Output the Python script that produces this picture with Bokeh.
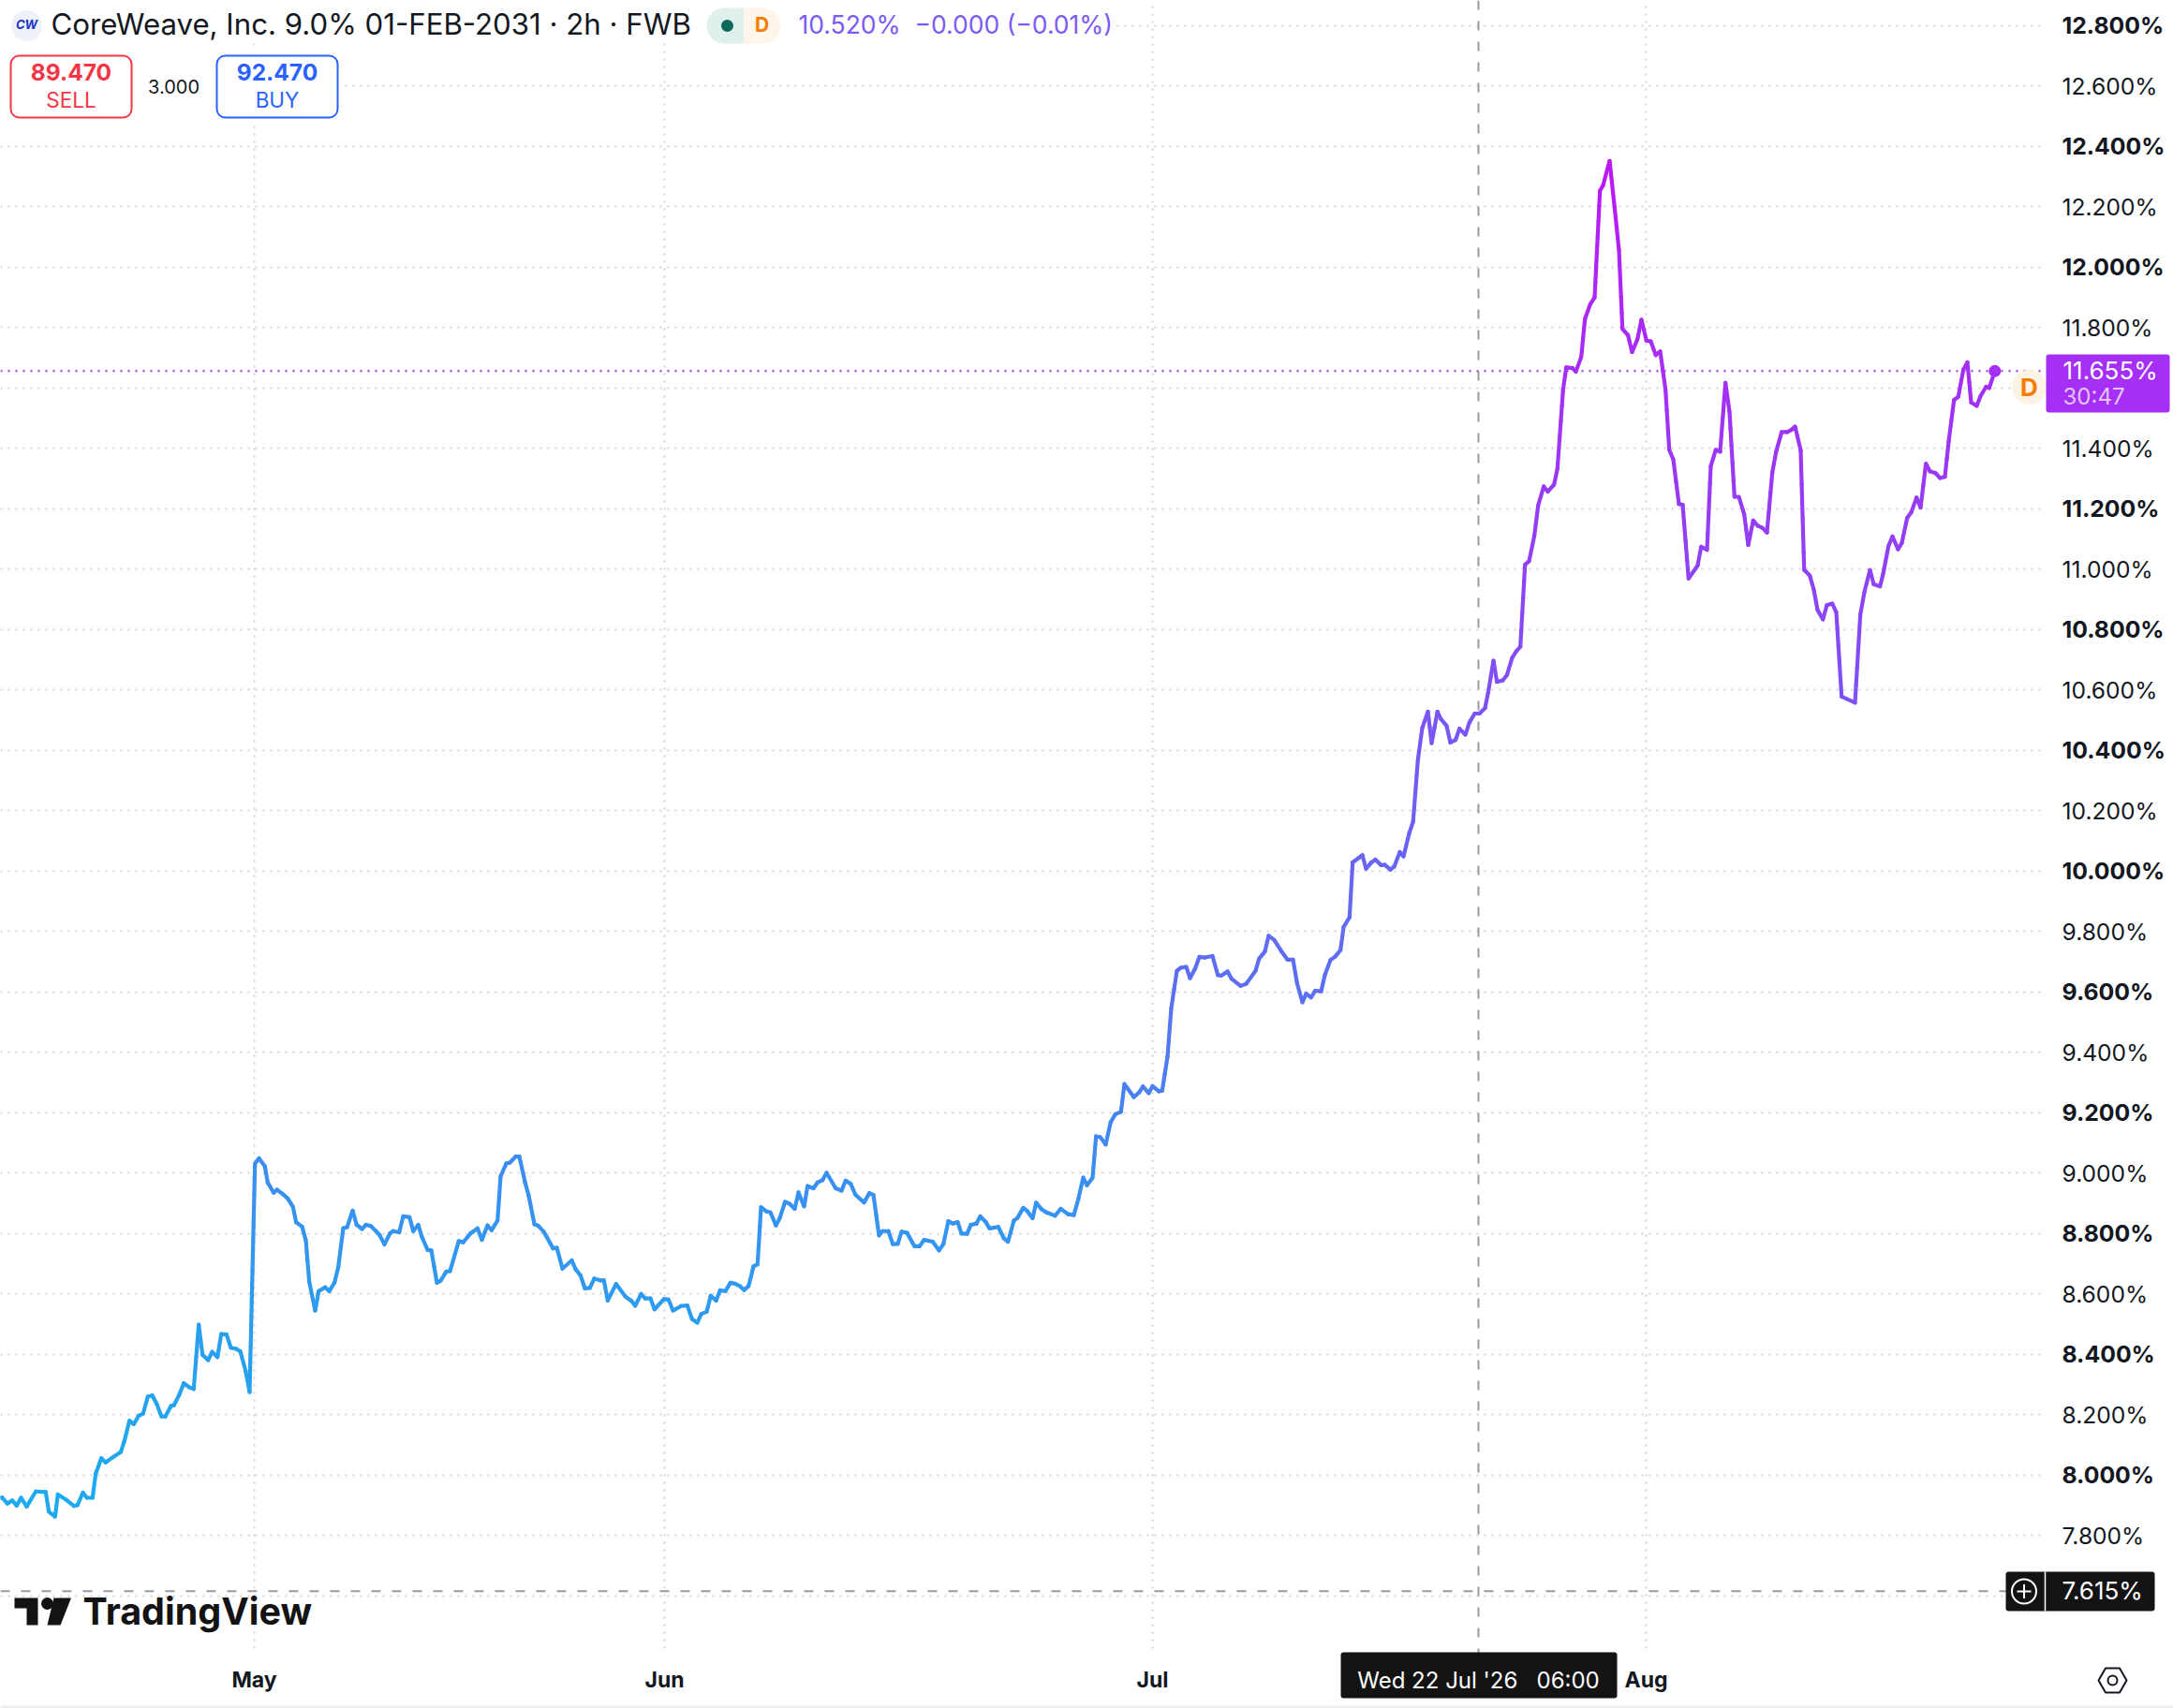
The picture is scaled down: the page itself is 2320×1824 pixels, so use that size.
from bokeh.core.properties import value
from bokeh.embed import file_html
from bokeh.models import BoxAnnotation, FixedTicker, Grid, LinearAxis, PrintfTickFormatter, Range1d
from bokeh.plotting import figure
from bokeh.resources import INLINE
import numpy as np

# ---- data -----------------------------------------------------------------
bar_position = [
    0,1.7,7.3,12.7,17.3,22,28,37.7,48.3,51.7,58.3,61.3,70.7,78.3,82.3,88,92.3,98.3,101.7,107.7,
    112.3,120.7,128.3,132.3,137.7,142.3,147.7,152.3,157.3,162,166.7,172,176,182,185.3,190.7,195.7,201.7,206.3,211.7,
    215.7,221.7,226,231.7,235.7,241.3,246,251.7,256,261.7,266,271.7,276,282.3,285.3,291.7,295.3,301.7,306.7,312.3,
    315.7,322,326,329.7,336,339.7,346.7,351,356.7,360.7,366,370,376,380.3,386,390.3,395.3,
    400.7,405,410,415.7,419.3,425.7,430,436.7,440.7,446,450,456,460,466,470,476,480,489.3,494,501.7,509.3,514,520,
    524.3,530.7,534,540,544,550,554,560,564,570,574,580,590,594,600,610,614,619.3,624,629.3,634,640,644.3,648.3,
    657.3,667.3,673.3,677.7,684,688.3,694,698.3,708.3,713.3,718,726.7,733.3,738.3,744,748.3,754,758.3,764,768.3,774,779.3,
    784,789.3,794,798.7,804,808.3,812,817.3,822,828,832,837.7,842.3,848,852,858,861.7,868,872.3,877.7,882,891.7,898,
    902.3,907.7,912.7,922,927.7,932,938,941.7,948,952.7,958,962,968,975.7,981.3,986,995.3,1002,1006.7,1012,1016.7,
    1022,1026,1032,1036,1042,1046,1052,1056,1065.3,1071.3,1075.7,1082,1085.7,1092,1096,1102,1105.7,1111.3,1116.7,
    1126,1132,1140,1146,1150.7,1156,1160,1166,1169.7,1174.3,1180,1185.3,1190.3,1196.3,1200,1210,1215.7,1219.7,1226,1230,
    1236.7,1240.3,1246,1250,1256,1260,1266,1270,1275.3,1280,1286,1294,1299.7,1303.3,1310,1314.3,1324,1330,1340,1343.7,
    1350,1354,1360,1367.3,1374,1380,1384.3,1390,1394,1399.3,1403.7,1410,1414,1420,1425,1430.7,1434,1440.3,1443.7,
    1454,1458,1463.3,1468,1474,1478,1484,1488,1494,1498,1504,1508.2,1513.3,1517.9,1524,1528,1534.2,1537.8,1543.9,
    1548,1553.6,1557.7,1564,1568.3,1574,1579,1585,1588.3,1594,1597.7,1604,1608.3,1614,1618.3,1622.7,1627.7,1632,
    1637.7,1641.7,1647.7,1652,1658.7,1662.3,1668.3,1671.7,1678.3,1682,1687.7,1691.7,1697.3,1702,1707.7,1711,1718,
    1723.3,1728,1731.7,1737.7,1742,1747.7,1752,1757.3,1762,1767.3,1772,1777.7,1781.7,1786,1792,1796,1802.3,1812,
    1815.7,1822,1826,1831.3,1836,1841.7,1846,1851.3,1856,1861.7,1866,1871.3,1876,1881,1886,1891.7,1895.7,1901.7,
    1907.7,1912.3,1916,1922,1925.7,1931.7,1936,1940,1945.7,1950,1955.7,1960,1965.7,1980,1985.7,1990,1996,2000,2006.7,
    2010,2015.7,2020,2026,2030,2035.7,2040,2045.7,2050,2055.7,2060,2066,2070.7,2076,2080,2085.7,2090.3,2095.7,2100,
    2104,2110,2114,2120,2123.3,2129.3,
]
yield_pct = [
    7.923,7.925,7.905,7.915,7.898,7.924,7.895,7.945,7.943,7.878,7.862,7.935,7.916,7.897,7.900,7.941,7.924,7.924,8.004,8.055,
    8.041,8.060,8.075,8.112,8.179,8.168,8.196,8.203,8.259,8.263,8.236,8.193,8.193,8.228,8.231,8.264,8.303,8.290,8.284,8.497,
    8.398,8.380,8.407,8.390,8.466,8.465,8.421,8.417,8.409,8.345,8.274,9.030,9.048,9.022,8.968,8.934,8.944,8.929,8.915,8.887,
    8.836,8.822,8.777,8.639,8.544,8.608,8.621,8.608,8.637,8.688,8.817,8.820,8.875,8.828,8.814,8.828,8.824,
    8.808,8.793,8.763,8.799,8.807,8.803,8.856,8.853,8.807,8.828,8.787,8.745,8.743,8.636,8.643,8.673,8.675,8.774,8.770,8.799,8.816,8.778,8.826,
    8.810,8.842,8.989,9.031,9.034,9.054,9.054,8.970,8.924,8.830,8.825,8.805,8.750,8.752,8.683,8.710,8.681,8.660,8.617,8.619,8.650,8.644,8.644,8.577,
    8.632,8.590,8.577,8.560,8.599,8.584,8.584,8.548,8.582,8.580,8.544,8.559,8.561,8.516,8.504,8.533,8.540,8.593,8.577,8.611,8.608,8.636,
    8.633,8.625,8.612,8.625,8.690,8.697,8.886,8.873,8.869,8.826,8.850,8.904,8.898,8.881,8.935,8.889,8.956,8.949,8.968,8.976,9.000,8.949,8.941,
    8.974,8.964,8.928,8.902,8.933,8.927,8.793,8.807,8.807,8.764,8.765,8.805,8.801,8.757,8.757,8.778,8.772,8.743,8.764,8.840,8.832,
    8.837,8.799,8.798,8.828,8.832,8.856,8.837,8.816,8.821,8.783,8.772,8.842,8.850,8.884,8.874,8.850,8.901,8.880,8.869,
    8.858,8.881,8.863,8.860,8.912,8.984,8.959,8.984,9.121,9.118,9.094,9.168,9.194,9.202,9.294,9.251,9.266,9.286,9.264,9.287,
    9.270,9.272,9.385,9.545,9.669,9.679,9.682,9.645,9.675,9.715,9.713,9.718,9.655,9.653,9.667,9.643,9.619,9.626,9.669,9.709,
    9.733,9.785,9.771,9.735,9.706,9.706,9.628,9.565,9.593,9.581,9.603,9.601,9.655,9.705,9.716,9.738,9.814,9.846,10.028,
    10.052,10.007,10.027,10.037,10.019,10.020,10.004,10.014,10.062,10.048,10.124,10.163,10.367,10.472,10.527,10.423,10.527,10.503,10.481,
    10.425,10.434,10.471,10.451,10.491,10.521,10.521,10.539,10.590,10.696,10.626,10.631,10.648,10.706,10.727,10.742,11.014,11.025,
    11.111,11.210,11.273,11.256,11.279,11.332,11.593,11.667,11.665,11.653,11.702,11.828,11.876,11.899,12.252,12.270,12.351,
    12.197,12.056,11.795,11.773,11.718,11.760,11.825,11.756,11.753,11.708,11.720,11.593,11.394,11.362,11.215,11.212,10.968,11.011,
    11.073,11.063,11.340,11.394,11.388,11.616,11.520,11.239,11.238,11.181,11.079,11.160,11.143,11.136,11.120,11.319,11.387,11.453,
    11.453,11.461,11.471,11.393,10.997,10.978,10.931,10.864,10.833,10.880,10.885,10.856,10.577,10.557,10.849,10.923,10.996,10.949,10.942,
    10.983,11.075,11.107,11.065,11.086,11.169,11.187,11.236,11.203,11.348,11.323,11.317,11.301,11.305,11.422,11.559,11.570,11.660,11.684,
    11.551,11.540,11.572,11.603,11.599,11.655,
]
regular_ticks = [7.8, 8.2, 8.6, 9.0, 9.4, 9.8, 10.2, 10.6, 11.0, 11.4, 11.8, 12.2, 12.6]
bold_ticks = [8.0, 8.4, 8.8, 9.2, 9.6, 10.0, 10.4, 10.8, 11.2, 12.0, 12.4, 12.8]
grid_ticks = [7.6, 7.8, 8.0, 8.2, 8.4, 8.6, 8.8, 9.0, 9.2, 9.4, 9.6, 9.8, 10.0, 10.2, 10.4, 10.6, 10.8,
              11.0, 11.2, 11.4, 11.6, 11.8, 12.0, 12.2, 12.4, 12.6, 12.8]
month_names = ["May", "Jun", "Jul", "Aug"]
month_bars = [271, 709, 1230, 1757]
last_price = 11.655
low_price = 7.615
crosshair_bar = 1578

# ---- scale: 322.5 px per 1 % with 7.8 % at 1639 px of the 2320x1824 shot ---
def yield_at(py):
    return 7.8 + (1639.0 - py) / 322.5

FONT = value("Inter")
W, H = 2320, 1824
p = figure(width=W, height=H, output_backend="svg", toolbar_location=None,
           x_range=Range1d(0, W), y_range=Range1d(yield_at(H), yield_at(0)),
           x_axis_type=None, y_axis_type=None, min_border=0, outline_line_color=None,
           background_fill_color="white", border_fill_color="white")
p.extra_x_ranges = {"px": Range1d(0, W)}
p.extra_y_ranges = {"px": Range1d(H, 0)}
px = dict(x_range_name="px", y_range_name="px")

GRID = dict(grid_line_color="#d4d4d4", grid_line_width=2, grid_line_dash="2 6")
p.add_layout(Grid(dimension=1, ticker=FixedTicker(ticks=grid_ticks), **GRID))
p.add_layout(Grid(dimension=0, ticker=FixedTicker(ticks=month_bars), **GRID))

# masks: the panels and the header sit on white, over the grid
p.quad(left=[2180, 0, 0, 0], right=[W, W, 1190, 365], top=[0, 1765, 0, 52], bottom=[H, H, 46, 130],
       fill_color="white", line_color=None, **px)
p.quad(left=[0], right=[W], top=[1821], bottom=[H], fill_color="#eeeeee", line_color=None, **px)

# crosshair and low line
LINE = "#9a9a9a"
p.segment(x0=[crosshair_bar], x1=[crosshair_bar], y0=[yield_at(0)], y1=[yield_at(1766)],
          line_color=LINE, line_width=2, line_dash="10 12")
p.segment(x0=[0], x1=[2142], y0=[low_price], y1=[low_price], line_color=LINE, line_width=2, line_dash="10 12")
p.segment(x0=[0], x1=[2184], y0=[last_price], y1=[last_price], line_color="#a02ff5", line_width=2, line_dash="2 6")

# the series, coloured by its level
stops_v = [8.0, 8.5, 9.0, 9.6, 10.0, 10.5, 11.0, 11.6, 12.35]
stops_rgb = np.array([[0x1f,0xa9,0xee],[0x2b,0x9d,0xef],[0x3a,0x8f,0xf0],[0x5b,0x70,0xf2],[0x68,0x66,0xf3],
                      [0x7a,0x55,0xf5],[0x8f,0x42,0xf5],[0xa3,0x30,0xf5],[0xbc,0x18,0xf6]], dtype=float)
def color_of(v):
    return "#%02x%02x%02x" % tuple(int(round(np.interp(v, stops_v, stops_rgb[:, i]))) for i in range(3))

x0s, y0s, x1s, y1s, cols = [], [], [], [], []
for i in range(len(bar_position) - 1):
    xa, xb, ya, yb = bar_position[i], bar_position[i + 1], yield_pct[i], yield_pct[i + 1]
    n = max(1, int(abs(yb - ya) / 0.05))
    for k in range(n):
        t0, t1 = k / n, (k + 1) / n
        x0s.append(xa + (xb - xa) * t0); x1s.append(xa + (xb - xa) * t1)
        y0s.append(ya + (yb - ya) * t0); y1s.append(ya + (yb - ya) * t1)
        cols.append(color_of(ya + (yb - ya) * (t0 + t1) / 2))
p.segment(x0=x0s, y0=y0s, x1=x1s, y1=y1s, line_color=cols, line_width=4.2, line_cap="round")
p.scatter(x=[bar_position[-1]], y=[yield_pct[-1]], size=13, marker="circle", fill_color="#a52ff5", line_color=None)

# axes
def y_axis(ticks, style, size):
    ax = LinearAxis(fixed_location=2184, ticker=FixedTicker(ticks=ticks),
                    formatter=PrintfTickFormatter(format="%.3f%%"), axis_line_color=None,
                    major_tick_line_color=None, minor_tick_line_color=None, major_label_standoff=11,
                    major_label_text_font="Inter", major_label_text_font_size=size,
                    major_label_text_font_style=style, major_label_text_color="#131722")
    p.add_layout(ax, "right")
y_axis(regular_ticks, "normal", "24.6px")
y_axis(bold_ticks, "bold", "24.8px")
xax = LinearAxis(fixed_location=yield_at(1765), ticker=FixedTicker(ticks=month_bars),
                 major_label_overrides={b: n for b, n in zip(month_bars, month_names)},
                 axis_line_color=None, major_tick_line_color=None, minor_tick_line_color=None,
                 major_label_standoff=8, major_label_text_font="Inter", major_label_text_font_size="23px",
                 major_label_text_font_style="bold", major_label_text_color="#131722")
p.add_layout(xax, "below")

# chrome
def box(l, r, t, b, fill, line=None, radius=3):
    p.add_layout(BoxAnnotation(left=l, right=r, top=t, bottom=b, fill_color=fill, fill_alpha=1,
                               line_color=line, line_alpha=1 if line else 0, line_width=2,
                               border_radius=radius, **px))

def txt(x, y, s, size, color, style="normal", align="left", level="overlay"):
    p.text(x=[x], y=[y - 1.2], text=[s], text_font=FONT, text_font_size=f"{size}px", text_color=color,
           text_font_style=style, text_align=align, text_baseline="middle", level=level, **px)

# header
p.scatter(x=[28], y=[27], size=33, marker="circle", fill_color="#eef1f9", line_color=None, **px)
txt(28, 27, "CW", 13, "#1a33c8", "bold italic", "center")
txt(54, 27, "CoreWeave, Inc. 9.0% 01-FEB-2031 · 2h · FWB", 31.2, "#131722")
p.scatter(x=[773], y=[27], size=38, marker="circle", fill_color="#e0f0ec", line_color=None, **px)
p.scatter(x=[814], y=[27], size=38, marker="circle", fill_color="#fff5ea", line_color=None, **px)
p.quad(left=[773, 794], right=[794, 814], top=[8, 8], bottom=[46, 46], fill_color=["#e0f0ec", "#fff5ea"], line_color=None, **px)
p.scatter(x=[776], y=[27], size=13, marker="circle", fill_color="#0b6b5a", line_color=None, **px)
txt(813, 27, "D", 21, "#f57c00", "bold", "center")
txt(852, 27, "10.520%\u00a0\u00a0−0.000 (−0.01%)", 26.5, "#7b5af5")
box(11, 140, 59, 125, "white", "#f23645", 9)
box(231, 360, 59, 125, "white", "#2962ff", 9)
txt(75.5, 78, "89.470", 24.5, "#f23645", "bold", "center")
txt(75.5, 107, "SELL", 22.5, "#f23645", "normal", "center")
txt(185, 93, "3.000", 20, "#131722", "normal", "center")
txt(295.5, 78, "92.470", 24.5, "#2962ff", "bold", "center")
txt(295.5, 107, "BUY", 22.5, "#2962ff", "normal", "center")

# last-price tag
box(2184, 2316, 378, 440, "#a52ff5")
txt(2202, 396, f"{last_price:.3f}%", 26, "white")
txt(2202, 424, "30:47", 24, "#e2c6fc")
p.scatter(x=[2166], y=[413], size=37, marker="circle", fill_color="#fdf3e4", line_color=None, **px)
txt(2166, 414, "D", 26, "#f57c00", "bold", "center")

# low tag
box(2141, 2300, 1678, 1720, "#131313")
p.segment(x0=[2183], x1=[2183], y0=[1678], y1=[1720], line_color="white", line_width=1.5, level="overlay", **px)
p.scatter(x=[2160.5], y=[1699], size=26, marker="circle", fill_color=None, line_color="white", line_width=2, level="overlay", **px)
p.scatter(x=[2160.5], y=[1699], size=15, marker="cross", line_color="white", line_width=2, level="overlay", **px)
txt(2201, 1699, f"{low_price:.3f}%", 26, "white")

# crosshair time tag
box(1431, 1726, 1764, 1813, "#131313")
txt(1578, 1795, "Wed 22 Jul '26\u00a0\u00a0\u00a006:00", 24, "white", "normal", "center")

# settings icon
p.scatter(x=[2255], y=[1794], size=30, marker="hex", fill_color=None, line_color="#131722", line_width=2, **px)
p.scatter(x=[2255], y=[1794], size=10, marker="circle", fill_color=None, line_color="#131722", line_width=2, **px)

# TradingView logo
p.patches(xs=[[15, 40, 40, 28, 28, 15], [57, 75.5, 64, 50]], ys=[[1706, 1706, 1735, 1735, 1717, 1717], [1706, 1706, 1735, 1735]],
          fill_color="#131313", line_color=None, **px)
p.scatter(x=[50], y=[1712], size=13, marker="circle", fill_color="#131313", line_color=None, **px)
txt(88, 1722, "TradingView", 39.5, "#131313", "bold")

open("out.html", "w").write(file_html(p, INLINE))
